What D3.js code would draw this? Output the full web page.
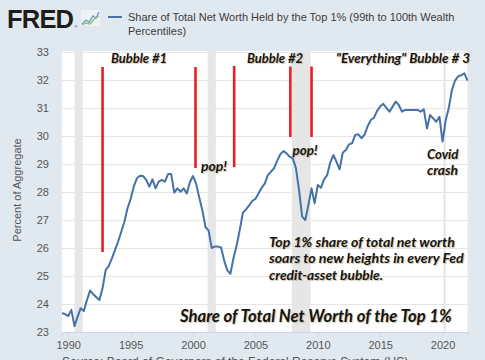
<!DOCTYPE html>
<html><head><meta charset="utf-8">
<script src="https://cdn.jsdelivr.net/npm/d3@7/dist/d3.min.js"></script>
<style>
html,body{margin:0;padding:0;background:#e1e9f0;}
svg{display:block;}
.ann{font-family:Lato,"Open Sans",sans-serif;font-weight:700;font-style:italic;fill:#141414;
 text-shadow:1px 1px 1px rgba(150,120,70,0.45);}
</style></head>
<body>
<svg id="c" width="485" height="360"></svg>
<script>
// ---- data ----
const startQuarter = 1989.5; // 1989 Q3, quarterly observations
const values = [
 23.67,23.64,23.57,23.79,23.21,23.55,23.85,23.75,24.14,24.48,
 24.35,24.24,24.14,24.56,25.21,25.36,25.63,25.93,26.23,26.58,
 26.94,27.42,27.75,28.19,28.49,28.58,28.57,28.43,28.19,28.45,
 28.13,28.37,28.43,28.37,28.64,28.64,27.98,28.13,28.01,28.13,
 27.95,28.35,28.57,28.30,27.80,27.35,26.75,26.62,26.00,26.05,
 26.05,26.02,25.55,25.20,25.08,25.65,26.10,26.65,27.26,27.38,
 27.52,27.68,27.75,27.95,28.15,28.30,28.60,28.73,28.85,29.12,
 29.35,29.46,29.38,29.26,29.20,28.85,28.07,27.12,27.00,27.55,
 28.13,27.60,28.25,28.15,28.45,28.60,29.05,29.32,29.08,28.81,
 29.40,29.50,29.70,29.74,30.04,30.06,29.92,30.05,30.35,30.57,
 30.65,30.90,31.05,31.15,31.00,30.87,31.05,31.23,31.10,30.87,
 30.93,30.93,30.93,30.93,30.93,30.87,30.95,30.27,30.75,30.63,
 30.51,30.69,29.80,30.55,31.00,31.64,31.98,32.13,32.17,32.24,
 31.98
];
const recessions = [[1990.5,1991.17],[2001.17,2001.83],[2007.92,2009.42],[2020.08,2020.25]];
const xTicks = [1990,1995,2000,2005,2010,2015,2020];
const yTicks = [23,24,25,26,27,28,29,30,31,32,33];
const seriesTitle = ["Share of Total Net Worth Held by the Top 1% (99th to 100th Wealth","Percentiles)"];
const yTitle = "Percent of Aggregate";
const sourceText = "Source: Board of Governors of the Federal Reserve System (US)";
// annotation events (year positions of red markers)
const bubbleMarks = [1992.75, 2000.2, 2003.3, 2007.8, 2009.5];

const data = values.map((v,i)=>({t:startQuarter+0.25*i, v}));

const svg = d3.select("#c");
const L=62, R=467.5, T=51, B=332;
const x = d3.scaleLinear().domain([1989.5,2022.0]).range([L,R]);
const y = d3.scaleLinear().domain([23,33]).range([B,52]);

// header
svg.append("text").attr("x",7).attr("y",27.5).attr("font-family","Liberation Sans, Arial, sans-serif")
  .attr("font-weight",700).attr("font-size",25.5).attr("letter-spacing",-0.8).attr("fill","#1d1d1b").text("FRED");
svg.append("text").attr("x",74.5).attr("y",27.5).attr("font-family","Liberation Sans, Arial, sans-serif")
  .attr("font-size",4).attr("fill","#1d1d1b").text("®");
const ic = svg.append("g").attr("transform","translate(81,10)");
ic.append("rect").attr("width",19).attr("height",16).attr("fill","#eef2f6");
ic.append("polyline").attr("points","1,14 5,10 8,12 12,6 15,8 18,2").attr("fill","none").attr("stroke","#6c9bd0").attr("stroke-width",1.3);
ic.append("polyline").attr("points","1,15 5,13 9,14 13,9 18,6").attr("fill","none").attr("stroke","#8cc063").attr("stroke-width",1.3);
svg.append("line").attr("x1",108).attr("x2",122).attr("y1",17).attr("y2",17).attr("stroke","#4572a7").attr("stroke-width",2);
seriesTitle.forEach((s,i)=>svg.append("text").attr("x",128).attr("y",21+i*14.3)
  .attr("font-family","Liberation Sans, Arial, sans-serif").attr("font-size",11).attr("fill","#3b3b3b").text(s));

// plot background
svg.append("rect").attr("x",L).attr("y",T).attr("width",R-L).attr("height",B-T).attr("fill","#ffffff");
// recession bands
svg.selectAll(".rec").data(recessions).join("rect")
  .attr("x",d=>x(d[0])).attr("width",d=>x(d[1])-x(d[0])).attr("y",T).attr("height",B-T).attr("fill","#e6e6e6");
// gridlines
svg.selectAll(".grid").data(yTicks).join("line")
  .attr("x1",L).attr("x2",R).attr("y1",d=>Math.round(y(d))+0.5).attr("y2",d=>Math.round(y(d))+0.5)
  .attr("stroke","#e6e6e6").attr("stroke-width",1);

// axes
const xa = svg.append("g").attr("transform",`translate(0,${B})`)
  .call(d3.axisBottom(x).tickValues(xTicks).tickFormat(d3.format("d")).tickSize(5).tickPadding(4));
xa.select(".domain").attr("stroke","#ccd6eb");
xa.selectAll(".tick line").attr("stroke","#ccd6eb");
xa.selectAll("text").attr("font-family","Liberation Sans, Arial, sans-serif").attr("font-size",11).attr("fill","#555");
const ya = svg.append("g").attr("transform",`translate(${L},0)`)
  .call(d3.axisLeft(y).tickValues(yTicks).tickFormat(d3.format("d")).tickSize(0).tickPadding(13));
ya.select(".domain").remove();
ya.selectAll("text").attr("font-family","Liberation Sans, Arial, sans-serif").attr("font-size",11).attr("fill","#555");

svg.append("text").attr("transform","translate(21,190) rotate(-90)").attr("text-anchor","middle")
  .attr("font-family","Liberation Sans, Arial, sans-serif").attr("font-size",11).attr("fill","#555").text(yTitle);

// series line
svg.append("path").datum(data).attr("fill","none").attr("stroke","#4572a7").attr("stroke-width",2)
  .attr("stroke-linejoin","round").attr("d",d3.line().x(d=>x(d.t)).y(d=>y(d.v)));

// red markers
const markTop = [67,67,66,66.5,66.5], markBot=[252,168,167,137,137];
bubbleMarks.forEach((t,i)=>svg.append("line").attr("x1",x(t)).attr("x2",x(t)).attr("y1",markTop[i]).attr("y2",markBot[i])
  .attr("stroke","#ee1c25").attr("stroke-width",2.6));

// annotations: text, left x, baseline y, target width (px)
function ann(txt,xp,yp,w){
  const t = svg.append("text").attr("class","ann").attr("x",xp).attr("y",yp).attr("font-size",12).text(txt);
  const m = t.node().getComputedTextLength();
  t.attr("font-size", (12*w/m).toFixed(2));
  return t;
}
ann("Bubble #1",111,62.5,56);
ann("Bubble #2",247,62.5,56);
ann("\"Everything\" Bubble # 3",336,62.5,134);
ann("pop!",201,171,26);
ann("pop!",292.5,154.5,25);
ann("Covid",427,158.5,31.5);
ann("crash",427,175,31);
ann("Top 1% share of total net worth",269,246.5,186);
ann("soars to new heights in every Fed",269,263,195);
ann("credit-asset bubble.",269,279.7,114);
ann("Share of Total Net Worth of the Top 1%",180,321.5,272);

svg.append("text").attr("x",62).attr("y",366).attr("font-family","Liberation Sans, Arial, sans-serif")
  .attr("font-size",12).attr("fill","#555").text(sourceText);
</script>
</body></html>
